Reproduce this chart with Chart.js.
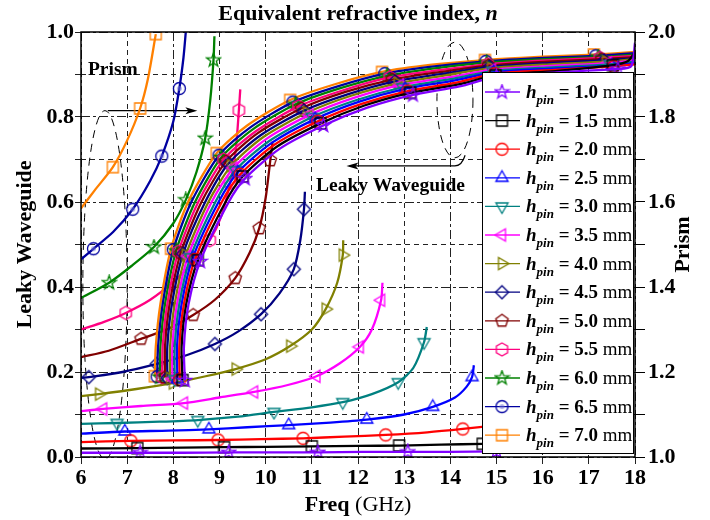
<!DOCTYPE html>
<html>
<head>
<meta charset="utf-8">
<script src="https://cdn.jsdelivr.net/npm/chart.js@4.4.0/dist/chart.umd.min.js"></script>
<style>
  html, body { margin: 0; padding: 0; background: #fff; }
  #wrap { width: 710px; height: 520px; }
</style>
</head>
<body>
<div id="wrap"><canvas id="chart"></canvas></div>
<script>
// legend labels, h_pin in mm
const hPin = ["1.0", "1.5", "2.0", "2.5", "3.0", "3.5", "4.0", "4.5", "5.0", "5.5", "6.0", "6.5", "7.0"];

// Leaky waveguide branch (left axis): [freq GHz, n]
const leaky10 = [[8.25,0.18],[8.23,0.26],[8.33,0.36],[8.58,0.46],[9.20,0.60],[9.55,0.655],[10.30,0.725],[11.25,0.78],[12.20,0.822],[13.19,0.852],[14.20,0.872],[15.00,0.895],[16.30,0.905],[17.63,0.913],[17.92,0.92],[18.00,0.975]];
const leaky15 = [[8.20,0.181],[8.18,0.26],[8.28,0.36],[8.53,0.463],[9.13,0.60],[9.50,0.66],[10.24,0.73],[11.19,0.785],[12.14,0.827],[13.13,0.857],[14.15,0.876],[14.98,0.898],[16.28,0.908],[17.52,0.922],[17.85,0.932],[18.00,0.953]];
const leaky20 = [[8.14,0.182],[8.13,0.26],[8.23,0.36],[8.47,0.465],[9.05,0.60],[9.45,0.665],[10.18,0.734],[11.13,0.79],[12.08,0.831],[13.08,0.861],[14.10,0.88],[14.96,0.902],[16.25,0.911],[17.54,0.919],[18.00,0.924]];
const leaky25 = [[8.09,0.183],[8.08,0.26],[8.18,0.36],[8.42,0.468],[8.98,0.60],[9.40,0.67],[10.13,0.739],[11.07,0.795],[12.03,0.836],[13.02,0.866],[14.05,0.885],[14.94,0.905],[16.23,0.914],[17.50,0.921],[18.00,0.927]];
const leaky30 = [[8.03,0.183],[8.03,0.26],[8.13,0.36],[8.37,0.47],[8.91,0.60],[9.35,0.675],[10.07,0.743],[11.01,0.80],[11.97,0.84],[12.97,0.87],[14.00,0.889],[14.92,0.908],[16.20,0.917],[17.46,0.924],[18.00,0.93]];
const leaky35 = [[7.98,0.184],[7.98,0.26],[8.08,0.36],[8.32,0.473],[8.83,0.60],[9.30,0.68],[10.01,0.748],[10.95,0.805],[11.91,0.845],[12.91,0.875],[13.95,0.893],[14.90,0.911],[16.18,0.92],[17.41,0.927],[18.00,0.933]];
const leaky40 = [[7.93,0.185],[7.93,0.26],[8.03,0.36],[8.27,0.475],[8.76,0.60],[9.25,0.685],[9.95,0.753],[10.89,0.81],[11.85,0.85],[12.86,0.879],[13.90,0.898],[14.88,0.915],[16.15,0.924],[17.37,0.93],[18.00,0.936]];
const leaky45 = [[7.87,0.186],[7.87,0.26],[7.97,0.36],[8.21,0.478],[8.69,0.60],[9.19,0.69],[9.89,0.757],[10.83,0.815],[11.79,0.854],[12.80,0.884],[13.85,0.902],[14.85,0.918],[16.13,0.927],[17.33,0.933],[18.00,0.938]];
const leaky50 = [[7.82,0.187],[7.82,0.26],[7.92,0.36],[8.16,0.48],[8.61,0.60],[9.14,0.695],[9.83,0.762],[10.77,0.82],[11.73,0.859],[12.74,0.888],[13.80,0.906],[14.83,0.921],[16.10,0.93],[17.28,0.936],[18.00,0.941]];
const leaky55 = [[7.76,0.188],[7.77,0.26],[7.87,0.36],[8.11,0.483],[8.54,0.60],[9.09,0.70],[9.78,0.766],[10.71,0.825],[11.68,0.863],[12.69,0.893],[13.75,0.91],[14.81,0.924],[16.08,0.933],[17.24,0.939],[18.00,0.944]];
const leaky60 = [[7.71,0.188],[7.72,0.26],[7.82,0.36],[8.06,0.485],[8.47,0.60],[9.04,0.705],[9.72,0.771],[10.65,0.83],[11.62,0.868],[12.63,0.897],[13.70,0.915],[14.79,0.928],[16.05,0.936],[17.20,0.941],[18.00,0.947]];
const leaky65 = [[7.65,0.189],[7.67,0.26],[7.77,0.36],[8.00,0.488],[8.39,0.60],[8.99,0.71],[9.66,0.775],[10.59,0.835],[11.56,0.872],[12.58,0.902],[13.65,0.919],[14.77,0.931],[16.03,0.939],[17.15,0.944],[18.00,0.95]];
const leaky70 = [[7.60,0.19],[7.62,0.26],[7.72,0.36],[7.95,0.49],[8.32,0.60],[8.94,0.715],[9.60,0.78],[10.53,0.84],[11.50,0.877],[12.52,0.906],[13.60,0.923],[14.75,0.934],[16.00,0.942],[17.11,0.947],[18.00,0.953]];
const leakyMarks = [0, 3, 5, 7, 9, 11, 13];

// Prism branch (right axis): [freq GHz, n]
const prism10 = [[6,1.01],[7.28,1.01],[8.2,1.01],[9.2,1.011],[10.2,1.011],[11.13,1.011],[12.1,1.012],[13.08,1.012],[14.0,1.012],[15.0,1.013]];
const prism15 = [[6,1.02],[7.22,1.021],[8.2,1.022],[9.1,1.023],[10.0,1.024],[11.0,1.025],[12.0,1.026],[12.89,1.027],[13.8,1.029],[14.7,1.031],[15.5,1.033]];
const prism20 = [[6,1.035],[7.08,1.038],[8.0,1.039],[8.97,1.04],[9.9,1.042],[10.81,1.044],[11.7,1.048],[12.6,1.052],[13.5,1.058],[14.27,1.066],[15.0,1.075]];
const prism25 = [[6,1.055],[6.95,1.06],[7.9,1.062],[8.77,1.065],[9.6,1.07],[10.5,1.075],[11.4,1.081],[12.19,1.088],[13.0,1.1],[13.62,1.118],[14.1,1.14],[14.35,1.165],[14.47,1.188],[14.51,1.216]];
const prism30 = [[6,1.078],[6.78,1.08],[7.7,1.083],[8.53,1.087],[9.4,1.095],[10.18,1.106],[11.0,1.117],[11.67,1.129],[12.3,1.148],[12.87,1.176],[13.2,1.21],[13.43,1.27],[13.49,1.306]];
const prism35 = [[6,1.108],[6.48,1.113],[7.3,1.12],[8.23,1.127],[9.0,1.14],[9.75,1.153],[10.5,1.17],[11.1,1.19],[11.6,1.22],[12.04,1.259],[12.3,1.3],[12.5,1.369],[12.53,1.41]];
const prism40 = [[6,1.143],[6.39,1.148],[7.2,1.16],[7.99,1.174],[8.7,1.19],[9.35,1.207],[10.0,1.23],[10.53,1.261],[11.0,1.3],[11.3,1.348],[11.55,1.41],[11.67,1.475],[11.68,1.51]];
const prism45 = [[6,1.186],[6.17,1.188],[6.9,1.2],[7.64,1.219],[8.3,1.24],[8.9,1.266],[9.4,1.295],[9.9,1.336],[10.3,1.385],[10.61,1.442],[10.75,1.51],[10.83,1.583],[10.85,1.624]];
const prism50 = [[6,1.235],[6.6,1.25],[7.3,1.278],[7.9,1.302],[8.43,1.334],[8.9,1.37],[9.34,1.421],[9.65,1.48],[9.86,1.538],[10.0,1.61],[10.1,1.698],[10.15,1.742]];
const prism55 = [[6,1.3],[6.5,1.318],[6.97,1.339],[7.5,1.37],[8.0,1.412],[8.4,1.455],[8.79,1.51],[9.05,1.57],[9.23,1.645],[9.35,1.72],[9.42,1.816],[9.45,1.865]];
const prism60 = [[6,1.374],[6.61,1.41],[7.1,1.45],[7.58,1.494],[8.0,1.55],[8.27,1.605],[8.5,1.67],[8.69,1.75],[8.8,1.84],[8.87,1.934],[8.89,1.99]];
const prism65 = [[6,1.465],[6.27,1.49],[6.7,1.53],[7.12,1.583],[7.5,1.65],[7.75,1.708],[8.0,1.79],[8.13,1.867],[8.22,1.94],[8.27,2.0]];
const prism70 = [[6,1.585],[6.3,1.628],[6.69,1.682],[7.0,1.745],[7.28,1.82],[7.45,1.89],[7.62,1.995]];
const prismMarks = [
  [1,3,5,7,9], [1,3,5,7,9], [1,3,5,7,9], [1,3,5,7,9,12], [1,3,5,7,9,11], [1,3,5,7,9,11],
  [1,3,5,7,9,11], [1,3,5,7,9,11], [2,4,6,8,10], [2,4,6,8,10], [1,3,5,7,9], [1,3,5,7], [2,4,6]
];

const leakyCurves = [leaky10, leaky15, leaky20, leaky25, leaky30, leaky35, leaky40, leaky45, leaky50, leaky55, leaky60, leaky65, leaky70];
const prismCurves = [prism10, prism15, prism20, prism25, prism30, prism35, prism40, prism45, prism50, prism55, prism60, prism65, prism70];

// styles
const colors = ["#8000ff", "#000000", "#ff0000", "#0000ff", "#008080", "#ff00ff", "#808000", "#000080", "#800000", "#ff0080", "#008000", "#0000a0", "#ff8000"];
const shapes = ["star", "rect", "circle", "triUp", "triDown", "triLeft", "triRight", "diamond", "pentagon", "hexagon", "star", "circleDot", "rect"];
const serif = '"Liberation Serif", "Times New Roman", serif';

// hollow marker drawn once into a small canvas
function makeMarker(shape, color) {
  const size = 17;
  const c = document.createElement("canvas");
  c.width = c.height = size;
  const g = c.getContext("2d");
  const m = size / 2, r = 6.5;
  g.strokeStyle = color;
  g.lineWidth = 1.3;
  g.beginPath();
  const poly = (n, rot, rr) => {
    for (let k = 0; k < n; k++) {
      const a = rot + k * 2 * Math.PI / n;
      const px = m + rr * Math.cos(a), py = m + rr * Math.sin(a);
      if (k) g.lineTo(px, py); else g.moveTo(px, py);
    }
    g.closePath();
  };
  switch (shape) {
    case "circle":
    case "circleDot": g.arc(m, m, r - 0.5, 0, 2 * Math.PI); break;
    case "rect": g.rect(m - 5.5, m - 5.5, 11, 11); break;
    case "diamond": poly(4, -Math.PI / 2, r); break;
    case "triUp": poly(3, -Math.PI / 2, r + 0.5); break;
    case "triDown": poly(3, Math.PI / 2, r + 0.5); break;
    case "triLeft": poly(3, Math.PI, r + 0.5); break;
    case "triRight": poly(3, 0, r + 0.5); break;
    case "pentagon": poly(5, -Math.PI / 2, r); break;
    case "hexagon": poly(6, -Math.PI / 2, r); break;
    case "star":
      for (let k = 0; k < 10; k++) {
        const a = -Math.PI / 2 + k * Math.PI / 5;
        const rr = k % 2 ? r * 0.45 : r + 0.8;
        const px = m + rr * Math.cos(a), py = m + rr * Math.sin(a);
        if (k) g.lineTo(px, py); else g.moveTo(px, py);
      }
      g.closePath();
      break;
  }
  g.stroke();
  if (shape === "circleDot") {
    // small light dot in the middle of the 6.5 mm circles
    g.fillStyle = "rgba(110,110,210,0.55)";
    g.beginPath();
    g.arc(m, m, 2.5, 0, 2 * Math.PI);
    g.fill();
  }
  return c;
}
const markers = shapes.map((s, i) => makeMarker(s, colors[i]));

function makeSet(points, marks, i, axis) {
  return {
    data: points.map((p) => ({ x: p[0], y: p[1] })),
    yAxisID: axis,
    borderColor: colors[i],
    borderWidth: 2.3,
    tension: 0.25,
    fill: false,
    pointStyle: markers[i],
    pointRadius: (c) => (marks.includes(c.dataIndex) ? 6 : 0),
    pointHoverRadius: 0,
  };
}

const datasets = [];
hPin.forEach((h, i) => datasets.push(makeSet(leakyCurves[i], leakyMarks, i, "y")));
hPin.forEach((h, i) => datasets.push(makeSet(prismCurves[i], prismMarks[i], i, "y2")));

// text with mixed fonts on one line
function drawRich(g, parts, x, y, align) {
  let w = 0;
  parts.forEach((p) => { g.font = p[1]; w += g.measureText(p[0]).width; });
  let cx = align === "center" ? x - w / 2 : x;
  parts.forEach((p) => {
    g.font = p[1];
    g.fillText(p[0], cx, y + (p[2] || 0));
    cx += g.measureText(p[0]).width;
  });
}

function arrow(g, x1, y1, x2, y2) {
  const a = Math.atan2(y2 - y1, x2 - x1);
  g.beginPath();
  g.moveTo(x2, y2);
  g.lineTo(x2 - 12 * Math.cos(a) + 3.5 * Math.sin(a), y2 - 12 * Math.sin(a) - 3.5 * Math.cos(a));
  g.lineTo(x2 - 9 * Math.cos(a), y2 - 9 * Math.sin(a));
  g.lineTo(x2 - 12 * Math.cos(a) - 3.5 * Math.sin(a), y2 - 12 * Math.sin(a) + 3.5 * Math.cos(a));
  g.closePath();
  g.fill();
}

// dashed ovals, arrows and their labels
const notes = {
  id: "notes",
  beforeDatasetsDraw(chart) {
    const g = chart.ctx, xs = chart.scales.x, ys = chart.scales.y;
    const X = (v) => xs.getPixelForValue(v), Y = (v) => ys.getPixelForValue(v);
    g.save();
    g.strokeStyle = "#000";
    g.fillStyle = "#000";
    g.lineWidth = 1;
    g.setLineDash([8, 6]);
    g.beginPath();
    g.ellipse(X(6.52), Y(0.405), X(7.0) - X(6.52), Y(0) - Y(0.41), 0, 0, 2 * Math.PI);
    g.stroke();
    g.beginPath();
    g.ellipse(X(14.1), Y(0.84), X(14.49) - X(14.1), Y(0) - Y(0.136), 0, 0, 2 * Math.PI);
    g.stroke();
    g.setLineDash([]);
    g.lineWidth = 1.2;
    g.beginPath();
    g.moveTo(X(6.58), Y(0.815));
    g.lineTo(X(8.45), Y(0.815));
    g.stroke();
    arrow(g, X(6.58), Y(0.815), X(8.52), Y(0.815));
    g.beginPath();
    g.moveTo(X(14.32), Y(0.71));
    g.quadraticCurveTo(X(14.25), Y(0.685), X(14.1), Y(0.685));
    g.lineTo(X(11.82), Y(0.685));
    g.stroke();
    arrow(g, X(14.1), Y(0.685), X(11.75), Y(0.685));
    g.font = "bold 19.5px " + serif;
    g.textAlign = "left";
    g.fillText("Prism", X(6.15), Y(0.9));
    g.fillText("Leaky Waveguide", X(11.09), Y(0.626));
    g.restore();
  },
};

// legend box inside the plot
const legendBox = {
  id: "legendBox",
  afterDatasetsDraw(chart) {
    const g = chart.ctx, a = chart.chartArea;
    const w = 151, h = 381;
    const x0 = a.right - w - 2, y0 = a.top + 40;
    g.save();
    g.fillStyle = "#fff";
    g.fillRect(x0, y0, w, h);
    g.strokeStyle = "#000";
    g.lineWidth = 1;
    g.strokeRect(x0 + 0.5, y0 + 0.5, w, h);
    hPin.forEach((v, i) => {
      const cy = y0 + 20 + i * 28.6;
      g.strokeStyle = colors[i];
      g.lineWidth = 1.3;
      g.beginPath();
      g.moveTo(x0 + 3, cy);
      g.lineTo(x0 + 38, cy);
      g.stroke();
      const mk = markers[i];
      g.drawImage(mk, x0 + 20 - mk.width / 2, cy - mk.height / 2);
      g.fillStyle = "#000";
      g.textAlign = "left";
      g.textBaseline = "alphabetic";
      drawRich(g, [
        ["h", "italic bold 19px " + serif],
        ["pin", "italic bold 13px " + serif, 6],
        [" = " + v + " ", "bold 19px " + serif],
        ["mm", "19px " + serif],
      ], x0 + 44, cy + 6, "left");
    });
    g.restore();
  },
};

// frame and titles
const frame = {
  id: "frame",
  afterDraw(chart) {
    const g = chart.ctx, a = chart.chartArea;
    const mid = (a.left + a.right) / 2, midY = (a.top + a.bottom) / 2;
    g.save();
    g.strokeStyle = "#000";
    g.lineWidth = 1.5;
    g.strokeRect(a.left, a.top, a.right - a.left, a.bottom - a.top);
    g.fillStyle = "#000";
    g.textBaseline = "alphabetic";
    g.textAlign = "left";
    drawRich(g, [
      ["Equivalent refractive index, ", "bold 22px " + serif],
      ["n", "italic bold 22px " + serif],
    ], mid, 20, "center");
    drawRich(g, [
      ["Freq", "bold 22px " + serif],
      [" (GHz)", "22px " + serif],
    ], mid, 511, "center");
    g.textAlign = "center";
    g.font = "bold 22px " + serif;
    g.save();
    g.translate(31, midY);
    g.rotate(-Math.PI / 2);
    g.fillText("Leaky Waveguide", 0, 0);
    g.restore();
    g.save();
    g.translate(689, midY);
    g.rotate(-Math.PI / 2);
    g.fillText("Prism", 0, 0);
    g.restore();
    g.restore();
  },
};

const tickFont = { family: serif, weight: "bold", size: 22 };
const yDash = (c) => (c.tick && Math.round(c.tick.value * 10) % 2 === 0 ? [9, 3, 3, 3] : [5, 4]);
const xDash = (c) => (c.tick && Math.round(c.tick.value) % 2 === 0 ? [9, 3, 3, 3] : [5, 4]);
const evenLabel = (v) => (Math.round(v * 10) % 2 === 0 ? Number(v).toFixed(1) : "");

new Chart(document.getElementById("chart"), {
  type: "line",
  data: { datasets },
  options: {
    responsive: true,
    maintainAspectRatio: false,
    animation: false,
    events: [],
    layout: { padding: { top: 32, left: 0, right: 0, bottom: 0 } },
    plugins: { legend: { display: false }, tooltip: { enabled: false }, title: { display: false } },
    scales: {
      x: {
        type: "linear",
        min: 6,
        max: 18,
        ticks: { stepSize: 1, autoSkip: false, maxRotation: 0, font: tickFont, color: "#000", padding: 1 },
        grid: { color: "#222", lineWidth: 1, tickLength: 7 },
        border: { display: false, dash: xDash },
        afterFit: (s) => { s.height = 63; },
      },
      y: {
        position: "left",
        min: 0,
        max: 1,
        ticks: { stepSize: 0.1, autoSkip: false, font: tickFont, color: "#000", padding: 1, callback: evenLabel },
        grid: { color: "#222", lineWidth: 1, tickLength: 6 },
        border: { display: false, dash: yDash },
        afterFit: (s) => { s.width = 81; },
      },
      y2: {
        position: "right",
        min: 1,
        max: 2,
        ticks: { stepSize: 0.1, autoSkip: false, font: tickFont, color: "#000", padding: 3, callback: evenLabel },
        grid: { drawOnChartArea: false, color: "#000", lineWidth: 1, tickLength: 10 },
        border: { display: false },
        afterFit: (s) => { s.width = 75; },
      },
    },
  },
  plugins: [notes, legendBox, frame],
});
</script>
</body>
</html>
